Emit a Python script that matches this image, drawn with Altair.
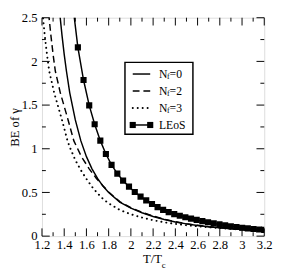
import altair as alt
import pandas as pd

# ---------------- data ----------------
t_nf0 = [1.36, 1.38, 1.40, 1.42, 1.45, 1.50, 1.55, 1.60, 1.65, 1.70, 1.75, 1.80, 1.90,
         2.00, 2.10, 2.20, 2.30, 2.40, 2.50, 2.60, 2.70, 2.80, 2.90, 3.00, 3.10, 3.20]
be_nf0 = [2.55, 2.30, 2.08, 1.89, 1.64, 1.33, 1.09, 0.91, 0.77, 0.66, 0.57, 0.50, 0.39,
          0.32, 0.268, 0.225, 0.19, 0.162, 0.14, 0.122, 0.107, 0.095, 0.085, 0.076, 0.069, 0.063]

t_nf2 = [1.26, 1.28, 1.30, 1.32, 1.365, 1.435, 1.487, 1.555, 1.625, 1.69, 1.75, 1.80, 1.90,
         2.00, 2.10, 2.20, 2.30, 2.40, 2.50, 2.60, 2.70, 2.80, 2.90, 3.00, 3.10, 3.20]
be_nf2 = [2.55, 2.30, 2.08, 1.89, 1.64, 1.33, 1.09, 0.91, 0.77, 0.66, 0.575, 0.505, 0.395,
          0.325, 0.273, 0.23, 0.194, 0.165, 0.142, 0.124, 0.108, 0.096, 0.086, 0.077, 0.069, 0.063]

t_nf3 = [1.205, 1.225, 1.245, 1.265, 1.31, 1.38, 1.43, 1.45, 1.50, 1.55, 1.60, 1.65, 1.70,
         1.75, 1.80, 1.90, 2.00, 2.10, 2.20, 2.30, 2.40, 2.50, 2.60, 2.70, 2.80, 2.90,
         3.00, 3.10, 3.20]
be_nf3 = [2.55, 2.30, 2.08, 1.89, 1.64, 1.33, 1.09, 1.02, 0.87, 0.755, 0.655, 0.565, 0.49,
          0.425, 0.375, 0.30, 0.25, 0.212, 0.182, 0.158, 0.14, 0.125, 0.113, 0.102, 0.092,
          0.083, 0.075, 0.068, 0.062]

t_leos = [1.472, 1.523, 1.574, 1.625, 1.674, 1.725, 1.775, 1.826, 1.878, 1.930, 1.983, 2.035,
          2.087, 2.138, 2.190, 2.240, 2.290, 2.340, 2.390, 2.440, 2.490, 2.541, 2.592, 2.643,
          2.694, 2.745, 2.797, 2.848, 2.899, 2.950, 3.001, 3.052, 3.103, 3.154, 3.200]
be_leos = [2.70, 2.161, 1.787, 1.496, 1.28, 1.093, 0.94, 0.815, 0.715, 0.635, 0.566, 0.505,
           0.452, 0.409, 0.368, 0.332, 0.300, 0.274, 0.252, 0.233, 0.216, 0.200, 0.186, 0.172,
           0.159, 0.146, 0.134, 0.123, 0.113, 0.104, 0.096, 0.089, 0.082, 0.076, 0.071]

x_major = [1.2, 1.4, 1.6, 1.8, 2.0, 2.2, 2.4, 2.6, 2.8, 3.0, 3.2]
x_minor = [1.3, 1.5, 1.7, 1.9, 2.1, 2.3, 2.5, 2.7, 2.9, 3.1]
y_major = [0, 0.5, 1.0, 1.5, 2.0, 2.5]
y_minor = [0.25, 0.75, 1.25, 1.75, 2.25]

legend_main = ["N", "N", "N", "LEoS"]
legend_sub = ["f", "f", "f", ""]
legend_tail = ["=0", "=2", "=3", ""]

# ---------------- layout / style ----------------
W, H = 229, 225
FONT = "Liberation Serif, Times New Roman, Times, serif"
MAJ, MIN = 8, 4

xs = alt.Scale(domain=[1.2, 3.2], nice=False, zero=False)
ys = alt.Scale(domain=[0, 2.5], nice=False, zero=False)

xaxis = alt.Axis(values=x_major, format="~g", ticks=False, domain=False, grid=False,
                 title=None, labelFont=FONT, labelFontSize=13, labelColor="black",
                 labelPadding=3, labelFlush=False, labelOverlap=False)
yaxis = alt.Axis(values=y_major, format="~g", ticks=False, domain=False, grid=False,
                 title="BE of γ", titleFont=FONT, titleFontSize=13, titleFontWeight="normal",
                 titleColor="black", titlePadding=0, labelFont=FONT, labelFontSize=13,
                 labelColor="black", labelPadding=5, labelFlush=False, labelOverlap=False)


def X(f):
    return alt.X(f, type="quantitative", scale=xs, axis=xaxis)


def Y(f):
    return alt.Y(f, type="quantitative", scale=ys, axis=yaxis)


def curve(t, be, dash=None, cap="butt", width=1.5):
    kw = dict(color="black", strokeWidth=width, clip=True, strokeCap=cap)
    if dash:
        kw["strokeDash"] = dash
    return alt.Chart(pd.DataFrame({"T": t, "BE": be})).mark_line(**kw).encode(
        x=X("T"), y=Y("BE"))


DASH = [7, 4]
DOT = [0.1, 5]

layers = []
layers.append(curve(t_nf0, be_nf0))
layers.append(curve(t_nf2, be_nf2, dash=DASH))
layers.append(curve(t_nf3, be_nf3, dash=DOT, cap="round", width=2))
layers.append(curve(t_leos, be_leos))
layers.append(
    alt.Chart(pd.DataFrame({"T": t_leos, "BE": be_leos}))
    .mark_square(color="black", size=40, opacity=1, clip=True)
    .encode(x=X("T"), y=Y("BE"))
)

# inward ticks on all four sides
for vals, ln in ((x_major, MAJ), (x_minor, MIN)):
    d = pd.DataFrame({"v": vals})
    layers.append(alt.Chart(d).mark_rule(color="black", strokeWidth=1).encode(
        x=X("v"), y=alt.value(H), y2=alt.value(H - ln)))
    layers.append(alt.Chart(d).mark_rule(color="black", strokeWidth=1).encode(
        x=X("v"), y=alt.value(0), y2=alt.value(ln)))
for vals, ln in ((y_major, MAJ), (y_minor, MIN)):
    d = pd.DataFrame({"v": vals})
    layers.append(alt.Chart(d).mark_rule(color="black", strokeWidth=1).encode(
        y=Y("v"), x=alt.value(0), x2=alt.value(ln)))
    layers.append(alt.Chart(d).mark_rule(color="black", strokeWidth=1).encode(
        y=Y("v"), x=alt.value(W), x2=alt.value(W - ln)))

# legend box
one = pd.DataFrame({"a": [0]})
BX0, BX1, BY0, BY1 = 85.5, 155.5, 46, 120
layers.append(alt.Chart(one).mark_rect(fill="white", stroke="black", strokeWidth=1.5).encode(
    x=alt.value(BX0), x2=alt.value(BX1), y=alt.value(BY0), y2=alt.value(BY1)))

SX0, SX1, TX = 93.5, 111.5, 120.5
row_y = [58 + 17.5 * i for i in range(4)]
styles = [dict(), dict(strokeDash=DASH), dict(strokeDash=DOT, strokeCap="round"), dict()]
widths = [1.5, 1.5, 2, 1.5]
for i in range(4):
    ry = row_y[i]
    layers.append(alt.Chart(one).mark_rule(color="black", strokeWidth=widths[i], **styles[i]).encode(
        x=alt.value(SX0), x2=alt.value(SX1), y=alt.value(ry)))
    if legend_main[i] == "LEoS":
        for sx in (SX0, SX1):
            layers.append(alt.Chart(one).mark_square(color="black", size=40, opacity=1).encode(
                x=alt.value(sx), y=alt.value(ry)))
    layers.append(alt.Chart(one).mark_text(align="left", baseline="middle", font=FONT,
                                           fontSize=12, color="black").encode(
        x=alt.value(TX), y=alt.value(ry), text=alt.value(legend_main[i])))
    if legend_sub[i]:
        layers.append(alt.Chart(one).mark_text(align="left", baseline="middle", font=FONT,
                                               fontSize=8, color="black").encode(
            x=alt.value(TX + 8.3), y=alt.value(ry + 3.5), text=alt.value(legend_sub[i])))
        layers.append(alt.Chart(one).mark_text(align="left", baseline="middle", font=FONT,
                                               fontSize=12, color="black").encode(
            x=alt.value(TX + 11), y=alt.value(ry), text=alt.value(legend_tail[i])))

# x-axis title with subscript
layers.append(alt.Chart(one).mark_text(align="right", baseline="middle", font=FONT,
                                       fontSize=13, color="black").encode(
    x=alt.value(W / 2 + 9), y=alt.value(H + 24), text=alt.value("T/T")))
layers.append(alt.Chart(one).mark_text(align="left", baseline="middle", font=FONT,
                                       fontSize=9, color="black").encode(
    x=alt.value(W / 2 + 9), y=alt.value(H + 30), text=alt.value("c")))

chart = alt.layer(*layers).properties(
    width=W, height=H,
    autosize=alt.AutoSizeParams(type="none"),
    padding={"left": 35, "top": 6, "right": 9, "bottom": 35},
).configure_view(stroke="black", strokeWidth=2).configure(font=FONT)

chart.save("out.html", embed_options={"renderer": "svg", "actions": False})
